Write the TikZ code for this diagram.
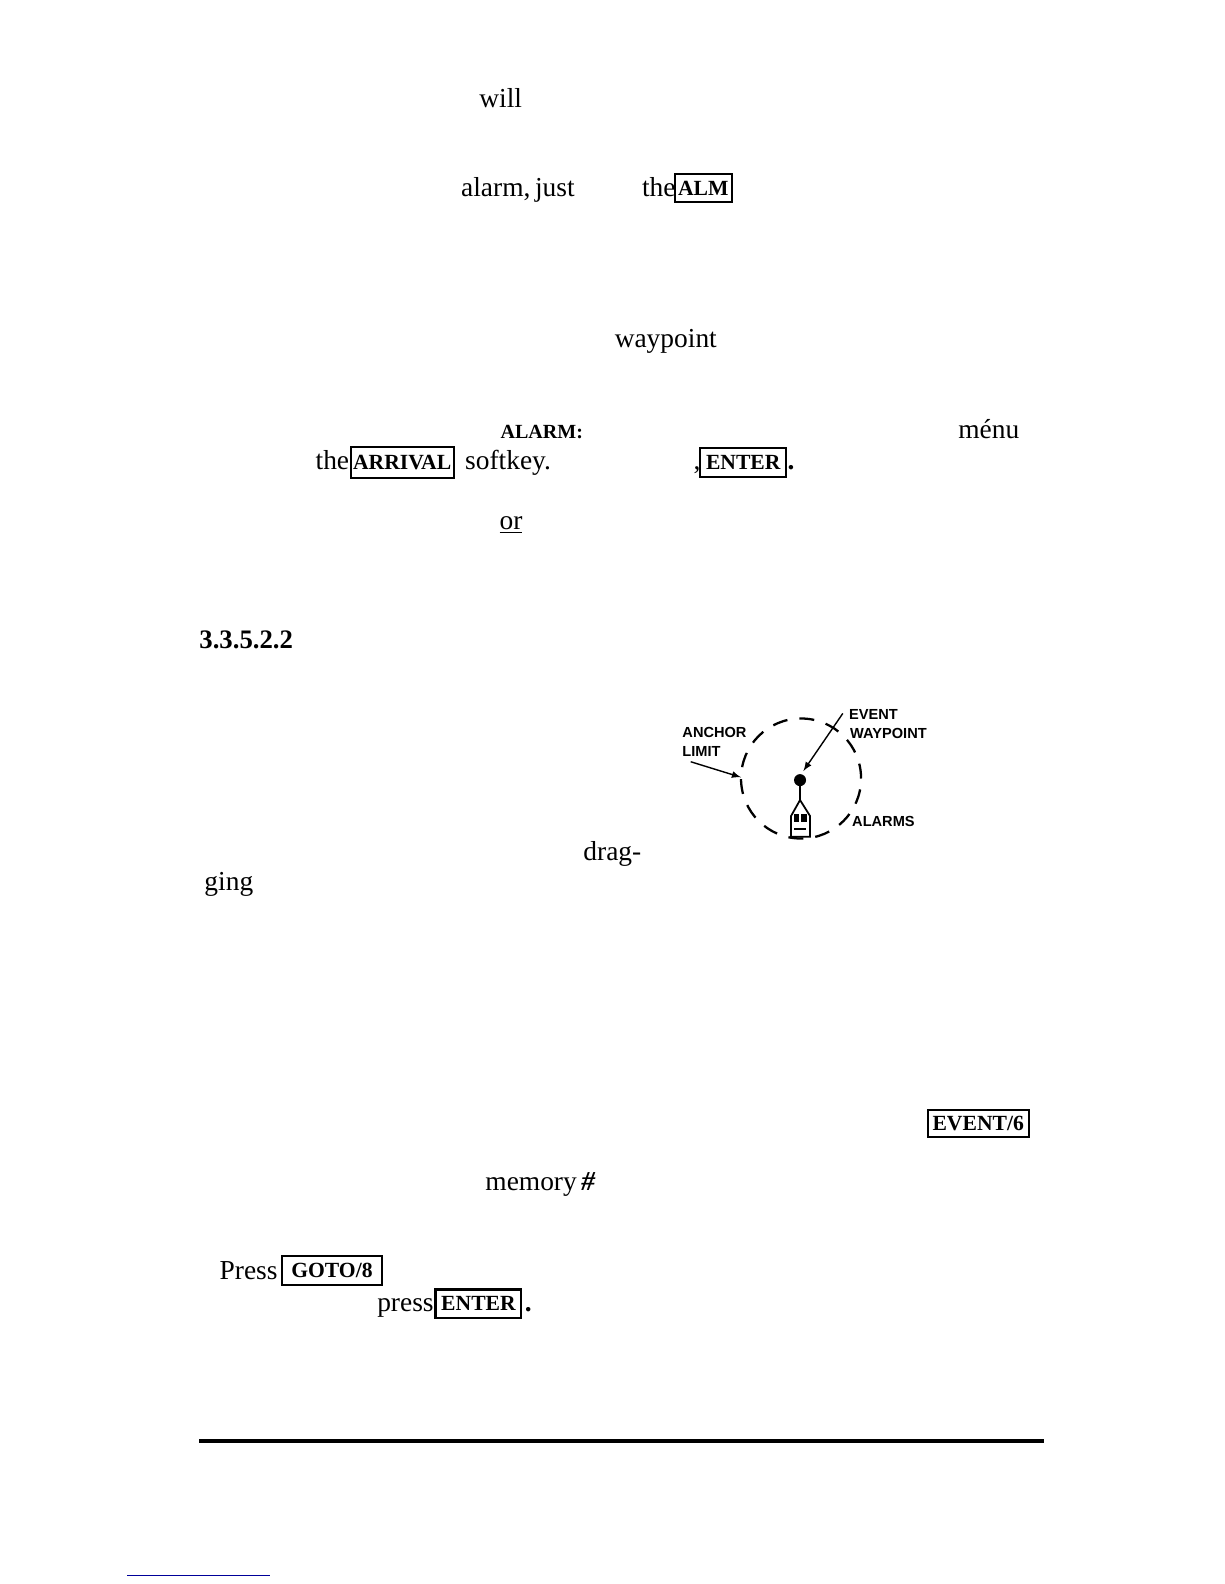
\documentclass[tikz,border=0pt]{standalone}
\usepackage{fontspec}
\setmainfont{Liberation Serif}
\newfontfamily\labelfont{Liberation Sans}
\usetikzlibrary{arrows.meta}
\newcommand{\pxu}{0.0202cm}
\tikzset{
	txt/.style={anchor=base west,inner sep=0pt,font=\fontsize{15.6}{18}\selectfont},
	boldtxt/.style={txt,font=\fontsize{11.4}{14}\selectfont\bfseries},
	keybox/.style={draw,line width=1.2pt,inner sep=0pt,font=\fontsize{12.3}{14}\selectfont\bfseries},
	tag/.style={anchor=base west,inner sep=0pt,font=\labelfont\fontsize{8.3}{10}\selectfont\bfseries},
}
\begin{document}
\begin{tikzpicture}[x=\pxu,y=-\pxu,>=latex]
	\useasboundingbox (0,0) rectangle (1211.3,1567.5);
	% running text
	\node[txt] (will) at (474,106) {will};
	\node[txt] (alarm) at (456,194) {alarm,\,just};
	\node[txt] (the1) at (635,194) {the};
	\node[txt] (way) at (608,344) {waypoint};
	\node[boldtxt] (alarmhead) at (495,434) {ALARM:};
	\node[txt] (menu) at (948,434) {ménu};
	\node[txt] (the2) at (312,465) {the};
	\node[txt] (soft) at (460,465) {softkey.};
	\node[txt] (comma) at (686,465) {,};
	\node[txt] (dot1) at (779,465) {\textbf{.}};
	\node[txt] (or) at (494,524) {\underline{or}};
	\node[txt,font=\fontsize{15.2}{18}\selectfont\bfseries] (sect) at (197,642) {3.3.5.2.2};
	\node[txt] (drag) at (577,852) {drag-};
	\node[txt] (ging) at (202,881) {ging};
	\node[txt] (mem) at (480,1178) {memory\,\textbf{\textit{\#}}};
	\node[txt] (press1) at (217,1266) {Press};
	\node[txt] (press2) at (373,1298) {press};
	\node[txt] (dot2) at (519,1298) {\textbf{.}};
	% keys
	\node[keybox,minimum width=56*\pxu,minimum height=28*\pxu] (alm) at (696,186) {ALM};
	\node[keybox,minimum width=102*\pxu,minimum height=31*\pxu] (arrival) at (398,457.5) {ARRIVAL};
	\node[keybox,minimum width=85*\pxu,minimum height=29*\pxu] (enter1) at (735.5,457.5) {ENTER};
	\node[keybox,minimum width=100*\pxu,minimum height=27*\pxu] (event) at (968,1111.5) {EVENT/6};
	\node[keybox,minimum width=99*\pxu,minimum height=29*\pxu] (goto) at (328.5,1257.5) {GOTO/8};
	\node[keybox,minimum width=85*\pxu,minimum height=28*\pxu] (enter2) at (473.5,1290) {ENTER};
	% anchor circle
	\coordinate (ctr) at (792.7,770.4);
	\draw[line width=1.3pt,dash pattern=on 0.3cm off 0.24cm] (ctr) circle (1.2cm);
	\node[fill=black,circle,inner sep=0pt,minimum size=0.24cm] (ball) at (791.7,772) {};
	% boat
	\coordinate (bow) at (791.7,791.7);
	\draw[line width=1pt] (ball) -- (bow);
	\draw[line width=1pt,fill=white] (bow) -- (801.6,807.5) -- (801.6,828) -- (782.8,828) -- (782.8,807.5) -- cycle;
	\fill (786,806) rectangle (791,813);
	\fill (793,806) rectangle (798.5,813);
	\draw[line width=1pt] (786,820) -- (798,820);
	% labels of the circle
	\node[tag] (ev) at (840,711.9) {EVENT};
	\node[tag] (wp) at (841,730.6) {WAYPOINT};
	\node[tag] (anc) at (675,730) {ANCHOR};
	\node[tag] (lim) at (675,748.8) {LIMIT};
	\node[tag] (alms) at (843,818) {ALARMS};
	\coordinate (evstart) at (834,706);
	\coordinate (evend) at (795,763);
	\coordinate (ancstart) at (683.5,753.8);
	\coordinate (ancend) at (733.3,769.2);
	\draw[->,line width=0.8pt] (evstart) -- (evend);
	\draw[->,line width=0.8pt] (ancstart) -- (ancend);
	% rules at the foot
	\coordinate (ruleL) at (197,1426);
	\coordinate (ruleR) at (1033,1426);
	\draw[line width=2.3pt] (ruleL) -- (ruleR);
	\coordinate (linkL) at (126,1559);
	\coordinate (linkR) at (267,1559);
	\draw[color=blue!60!black,line width=0.6pt] (linkL) -- (linkR);
\end{tikzpicture}
\end{document}
